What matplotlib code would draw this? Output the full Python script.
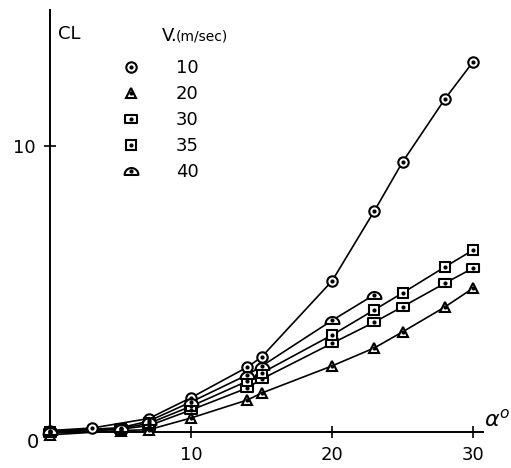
"""Lift coefficient against angle of attack for several wind speeds."""

import matplotlib
matplotlib.use("Agg")
import matplotlib.pyplot as plt
from matplotlib.lines import Line2D
from matplotlib.path import Path
import numpy as np

# angle of attack (deg) and lift coefficient for each wind speed (m/sec)
alpha_10 = [0, 3, 7, 10, 14, 15, 20, 23, 25, 28, 30]
cl_10 = [0.05, 0.14, 0.47, 1.2, 2.27, 2.62, 5.28, 7.73, 9.44, 11.64, 12.94]

alpha_20 = [0, 5, 7, 10, 14, 15, 20, 23, 25, 28, 30]
cl_20 = [-0.1, 0.05, 0.08, 0.49, 1.12, 1.36, 2.31, 2.94, 3.5, 4.37, 5.03]

alpha_30 = [0, 5, 7, 10, 14, 15, 20, 23, 25, 28, 30]
cl_30 = [-0.05, 0.1, 0.22, 0.77, 1.54, 1.85, 3.1, 3.84, 4.38, 5.2, 5.73]

alpha_35 = [0, 5, 7, 10, 14, 15, 20, 23, 25, 28, 30]
cl_35 = [0.0, 0.12, 0.3, 0.9, 1.78, 2.06, 3.39, 4.27, 4.86, 5.77, 6.36]

alpha_40 = [0, 5, 7, 10, 14, 15, 20, 23]
cl_40 = [0.02, 0.15, 0.38, 1.05, 2.0, 2.3, 3.9, 4.8]

speed_labels = ["10", "20", "30", "35", "40"]
x_ticks = [10, 20, 30]
y_ticks = [10]

# marker shapes: wide box and a half-circle dome
wide_box = Path([(-1.5, -0.9), (1.5, -0.9), (1.5, 0.9), (-1.5, 0.9), (-1.5, -0.9)],
                [Path.MOVETO, Path.LINETO, Path.LINETO, Path.LINETO, Path.CLOSEPOLY])
theta = np.linspace(0, np.pi, 25)
dome_pts = [(np.cos(t), np.sin(t) - 0.5) for t in theta] + [(1.0, -0.5)]
dome = Path(dome_pts, [Path.MOVETO] + [Path.LINETO] * (len(dome_pts) - 2) + [Path.CLOSEPOLY])

series = [
    (alpha_10, cl_10, "o", 7.5),
    (alpha_20, cl_20, "^", 7.5),
    (alpha_30, cl_30, wide_box, 9),
    (alpha_35, cl_35, "s", 6.5),
    (alpha_40, cl_40, dome, 10),
]

plt.rcParams["font.family"] = "DejaVu Sans"

fig = plt.figure(figsize=(5.11, 4.68), dpi=100)
ax = fig.add_axes([50 / 511, 36 / 468, 433 / 511, 422 / 468])
ax.set_xlim(0, 30.7)
ax.set_ylim(0, 14.75)

handles = []
for x, y, mk, ms in series:
    ax.plot(x, y, color="black", lw=1.2, zorder=2, clip_on=False)
    ax.plot(x, y, ls="none", marker=mk, ms=ms, mfc="white", mec="black",
            mew=1.5, zorder=3, clip_on=False)
    ax.plot(x, y, ls="none", marker="o", ms=2, color="black", zorder=4, clip_on=False)
    outer = Line2D([], [], ls="none", marker=mk, ms=ms, mfc="white", mec="black", mew=1.5)
    dot = Line2D([], [], ls="none", marker="o", ms=2, color="black")
    handles.append((outer, dot))

ax.legend(handles, speed_labels, loc="upper left", bbox_to_anchor=(0.166, 0.884),
          frameon=False, borderpad=0, borderaxespad=0, handlelength=1.0,
          handletextpad=2.0, labelspacing=0.45, fontsize=13)

for side in ("top", "right"):
    ax.spines[side].set_visible(False)
for side in ("left", "bottom"):
    ax.spines[side].set_linewidth(1.4)

ax.set_xticks(x_ticks)
ax.set_yticks(y_ticks)
ax.tick_params(direction="inout", length=8, width=1.2, labelsize=13, pad=6)

ax.text(-0.8, -0.35, "0", ha="right", va="center", fontsize=14, clip_on=False)
ax.text(0.55, 13.9, "CL", ha="left", va="center", fontsize=13)
ax.text(7.9, 13.85, "V.", ha="left", va="center", fontsize=13)
ax.text(8.95, 13.82, "(m/sec)", ha="left", va="center", fontsize=10)
ax.text(30.75, 0.05, r"$\alpha^o$", ha="left", va="bottom", fontsize=16, clip_on=False)

fig.savefig("out.png", dpi=100)
